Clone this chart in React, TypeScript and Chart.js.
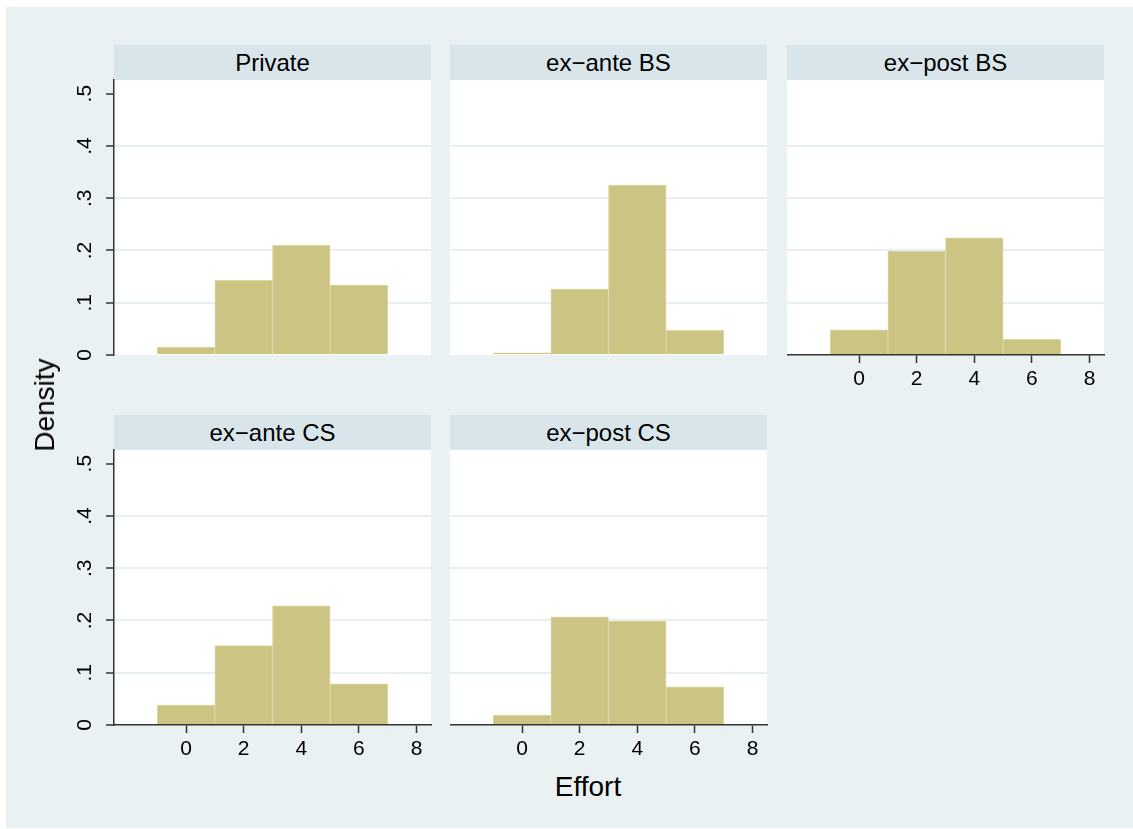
import React, { useEffect, useRef } from "react";
import { Chart, registerables } from "chart.js";

Chart.register(...registerables);

// ---------------- data ----------------
const panelTitles = ["Private", "ex\u2212ante BS", "ex\u2212post BS", "ex\u2212ante CS", "ex\u2212post CS"];
const binCenters = [0, 2, 4, 6]; // bins of width 2: [-1,1), [1,3), [3,5), [5,7)
const privateDensity = [0.015, 0.143, 0.21, 0.134];
const exAnteBSDensity = [0.004, 0.126, 0.325, 0.047];
const exPostBSDensity = [0.048, 0.199, 0.224, 0.03];
const exAnteCSDensity = [0.038, 0.152, 0.228, 0.079];
const exPostCSDensity = [0.019, 0.207, 0.199, 0.073];
const xTicks = [0, 2, 4, 6, 8];
const yTicks = [0, 0.1, 0.2, 0.3, 0.4, 0.5];
const yTickLabels = ["0", ".1", ".2", ".3", ".4", ".5"];
const xTitle = "Effort";
const yTitle = "Density";

const panelValues = [privateDensity, exAnteBSDensity, exPostBSDensity, exAnteCSDensity, exPostCSDensity];

// ---------------- style ----------------
const FONT = '"Liberation Sans", Arial, Helvetica, sans-serif';
const BG = "#eaf1f3";
const HEADER = "#d8e5eb";
const GRID = "#e7eff2";
const AXIS = "#333333";
const BAR = "#cbc482";
const BAR_EDGE = "#ddd7a2";
const TEXT = "#000000";

const X_MIN = -2.5;
const X_MAX = 8.5;
const Y_MAX = 0.5262;

const COL_LEFT = [114, 450, 787];
const ROW_TOP = [80, 450];
const PW = 317;
const PH = 275;
const HH = 35;
const Y_AXIS_W = 60;
const X_AXIS_H = 45;
const PAD = 30;
const PAD_R = 20;

type PanelProps = {
  title: string;
  values: number[];
  left: number;
  top: number;
  showY: boolean;
  showX: boolean;
};

function Panel({ title, values, left, top, showY, showX }: PanelProps) {
  const ref = useRef<HTMLCanvasElement | null>(null);
  const yW = showY ? Y_AXIS_W : 0;
  const xH = showX ? X_AXIS_H : 0;
  const cw = yW + PW + PAD_R;
  const ch = PAD + PH + (showX ? X_AXIS_H : PAD);

  useEffect(() => {
    if (!ref.current) return;
    const chart = new Chart(ref.current, {
      type: "bar",
      data: {
        datasets: [
          {
            data: binCenters.map((c, i) => ({ x: c, y: values[i] })),
            backgroundColor: BAR,
            borderColor: BAR_EDGE,
            borderWidth: 1,
            barPercentage: 1,
            categoryPercentage: 1,
          },
        ],
      },
      options: {
        animation: false,
        responsive: false,
        events: [],
        layout: { padding: { top: PAD, right: PAD_R, bottom: showX ? 0 : PAD, left: 0 } },
        plugins: { legend: { display: false }, tooltip: { enabled: false }, title: { display: false } },
        scales: {
          x: {
            type: "linear",
            min: X_MIN,
            max: X_MAX,
            offset: false,
            display: showX,
            afterBuildTicks: (s: any) => {
              s.ticks = xTicks.map((v) => ({ value: v }));
            },
            afterFit: (s: any) => {
              s.height = xH;
            },
            grid: {
              offset: false,
              drawOnChartArea: false,
              drawTicks: true,
              tickLength: 8,
              tickColor: AXIS,
              tickWidth: 1.5,
            },
            border: { display: true, color: AXIS, width: 1.5, z: 1 },
            ticks: {
              autoSkip: false,
              maxRotation: 0,
              minRotation: 0,
              padding: 4,
              color: TEXT,
              font: { family: FONT, size: 21 },
            },
          },
          y: {
            type: "linear",
            min: 0,
            max: Y_MAX,
            display: true,
            afterBuildTicks: (s: any) => {
              s.ticks = yTicks.map((v) => ({ value: v }));
            },
            afterFit: (s: any) => {
              s.width = yW;
            },
            grid: {
              color: (ctx: any) =>
                ctx.tick && (ctx.tick.value <= 0 || ctx.tick.value >= 0.5) ? "rgba(0,0,0,0)" : GRID,
              lineWidth: 2,
              drawTicks: showY,
              tickLength: 8,
              tickColor: AXIS,
              tickWidth: 1.5,
            },
            border: { display: showY, color: AXIS, width: 1.5, z: 1 },
            ticks: {
              display: showY,
              autoSkip: false,
              minRotation: 90,
              maxRotation: 90,
              crossAlign: "center",
              padding: 12,
              color: TEXT,
              font: { family: FONT, size: 21 },
              callback: (_v: any, i: number) => yTickLabels[i],
            },
          },
        },
      } as any,
    });
    return () => chart.destroy();
  }, []);

  return (
    <>
      <div
        style={{
          position: "absolute",
          left,
          top: top - HH,
          width: PW,
          height: HH,
          background: HEADER,
          color: TEXT,
          fontSize: 24,
          lineHeight: `${HH}px`,
          textAlign: "center",
          whiteSpace: "nowrap",
        }}
      >
        {title}
      </div>
      <div style={{ position: "absolute", left, top, width: PW, height: PH, background: "#ffffff" }} />
      <canvas
        ref={ref}
        width={cw}
        height={ch}
        style={{ position: "absolute", left: left - yW, top: top - PAD, width: cw, height: ch }}
      />
    </>
  );
}

export default function App() {
  return (
    <div
      style={{
        position: "absolute",
        left: 0,
        top: 0,
        width: 1133,
        height: 829,
        background: "#ffffff",
        overflow: "hidden",
        fontFamily: FONT,
      }}
    >
      <div style={{ position: "absolute", left: 6, top: 7, width: 1127, height: 821, background: BG }} />
      {panelTitles.map((t, i) => {
        const col = i % 3;
        const row = Math.floor(i / 3);
        return (
          <Panel
            key={t}
            title={t}
            values={panelValues[i]}
            left={COL_LEFT[col]}
            top={ROW_TOP[row]}
            showY={col === 0}
            showX={row === 1 || i === 2}
          />
        );
      })}
      <div
        style={{
          position: "absolute",
          left: 45,
          top: 405,
          transform: "translate(-50%, -50%) rotate(-90deg)",
          fontSize: 28,
          lineHeight: 1,
          color: TEXT,
          whiteSpace: "nowrap",
        }}
      >
        {yTitle}
      </div>
      <div
        style={{
          position: "absolute",
          left: 588,
          top: 787,
          transform: "translate(-50%, -50%)",
          fontSize: 28,
          lineHeight: 1,
          color: TEXT,
          whiteSpace: "nowrap",
        }}
      >
        {xTitle}
      </div>
    </div>
  );
}
